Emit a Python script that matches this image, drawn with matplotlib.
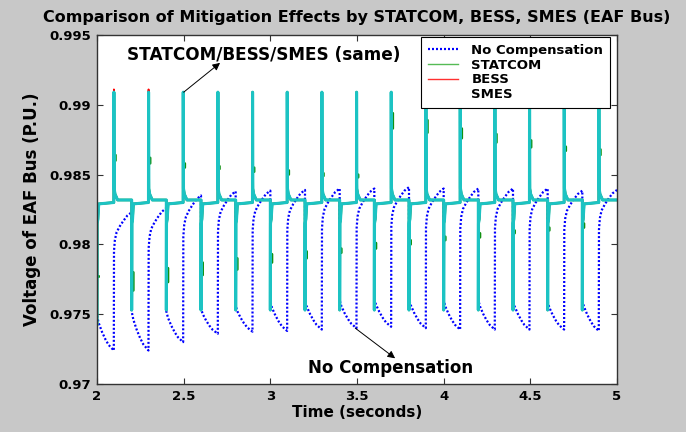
import numpy as np
import matplotlib.pyplot as plt
from matplotlib.lines import Line2D

plt.rcParams['font.family'] = 'DejaVu Sans'
plt.rcParams['font.weight'] = 'bold'
plt.rcParams['axes.labelweight'] = 'bold'

# load switching instants (s): voltage drops, then recovers ~0.1 s later
drop_times = [2.0, 2.2, 2.4, 2.6, 2.8, 3.0, 3.2, 3.4, 3.6, 3.8, 4.0, 4.2, 4.4, 4.6, 4.8]
rise_times = [2.097, 2.297, 2.497, 2.697, 2.897, 3.097, 3.297, 3.497, 3.697,
              3.897, 4.095, 4.295, 4.495, 4.695, 4.895]
t_end = 5.0

# uncompensated bus voltage per cycle (p.u.)
nc_after_drop = [0.9749, 0.9752, 0.9752, 0.9754, 0.9756, 0.9759, 0.9760, 0.9760,
                 0.9761, 0.9761, 0.9760, 0.9760, 0.9760, 0.9759, 0.9760]
nc_min = [0.9724, 0.9724, 0.9730, 0.9736, 0.97375, 0.9738, 0.9739, 0.9740,
          0.9741, 0.9740, 0.9739, 0.9739, 0.9739, 0.9739, 0.9738]
nc_peak = [0.9823, 0.9826, 0.9835, 0.9838, 0.98385, 0.9839, 0.9840, 0.9840,
           0.9841, 0.9840, 0.9840, 0.9840, 0.9840, 0.98385, 0.9839]
# shape of the sag decay and of the recovery, as fraction of the interval
decay_pos = [0.0, 0.10, 0.30, 0.50, 0.69, 0.90, 1.0]
decay_frac = [0.0, 0.21, 0.47, 0.68, 0.84, 0.95, 1.0]
rise_pos = [0.0, 0.01, 0.06, 0.155, 0.34, 0.52, 0.75, 1.0]
rise_frac = [0.0, 0.72, 0.80, 0.855, 0.90, 0.935, 0.975, 1.0]

# compensated bus voltage (SMES / BESS / STATCOM)
smes_drop_min = [0.9743, 0.9753, 0.9753, 0.9753, 0.9753, 0.9753, 0.9753, 0.9753,
                 0.9753, 0.9753, 0.9753, 0.9753, 0.9753, 0.9753, 0.9753]
smes_peak = [0.9909] * 15
bess_peak = [0.9911, 0.9911] + [0.9909] * 13
base_after_drop = 0.9830
base_after_spike = 0.98318
drop_return = 0.9815
spike_foot = 0.9836
# where the STATCOM trace departs from SMES (upper, lower)
statcom_drop_hi = [0.9777, 0.9780, 0.9783, 0.9787, 0.9790, 0.9793, 0.9795, 0.9797,
                   0.9801, 0.9803, 0.98055, 0.9808, 0.9810, 0.9812, 0.9815]
statcom_drop_lo = [0.9777, 0.9767, 0.9773, 0.9778, 0.9782, 0.9787, 0.9790, 0.9794,
                   0.9797, 0.9800, 0.9803, 0.9805, 0.9808, 0.9810, 0.9812]
statcom_spike_hi = [0.9864, 0.9862, 0.9858, 0.9856, 0.9855, 0.9853, 0.9851, 0.9850,
                    0.9894, 0.9889, 0.9883, 0.9879, 0.98745, 0.9870, 0.9868]
statcom_spike_lo = [0.9860, 0.9858, 0.9855, 0.9854, 0.9852, 0.9850, 0.9849, 0.9848,
                    0.9883, 0.9880, 0.9876, 0.9873, 0.98695, 0.9867, 0.9864]


def no_comp_curve():
    t, v = [], []
    for k, (td, tr) in enumerate(zip(drop_times, rise_times)):
        t_next = drop_times[k + 1] if k + 1 < len(drop_times) else t_end
        a, b, p = nc_after_drop[k], nc_min[k], nc_peak[k]
        for s, f in zip(decay_pos, decay_frac):
            t.append(td + s * (tr - td))
            v.append(a - f * (a - b))
        for s, f in zip(rise_pos[1:], rise_frac[1:]):
            t.append(tr + s * (t_next - tr))
            v.append(b + f * (p - b))
    return t, v


def compensated_curve(peaks, drop_mark=None, spike_mark=None):
    t, v = [], []
    off = 0.010
    for k, (td, tr) in enumerate(zip(drop_times, rise_times)):
        t_next = drop_times[k + 1] if k + 1 < len(drop_times) else t_end
        if k > 0:
            t.append(td); v.append(base_after_spike)
        t.append(td); v.append(smes_drop_min[k])
        if drop_mark is not None:
            lo, hi = drop_mark[0][k], drop_mark[1][k]
            t += [td + 0.001, td + off, td + off, td + 0.001]
            v += [lo, lo, hi, hi]
        t += [td + 0.001, td + 0.005, td + 0.010, tr]
        v += [drop_return, drop_return + 0.0003, base_after_drop - 0.0001, base_after_drop]
        t.append(tr + 0.0005); v.append(peaks[k])
        if spike_mark is not None:
            lo, hi = spike_mark[0][k], spike_mark[1][k]
            t += [tr + 0.001, tr + off, tr + off, tr + 0.001]
            v += [hi, hi, lo, lo]
        t += [tr + 0.002, tr + 0.007, tr + 0.022, t_next]
        v += [0.9840, spike_foot, base_after_spike, base_after_spike]
    return t, v


fig = plt.figure(figsize=(6.86, 4.32), dpi=100, facecolor='#c8c8c8')
ax = fig.add_axes([0.1414, 0.1111, 0.758, 0.808])

t_nc, v_nc = no_comp_curve()
t_st, v_st = compensated_curve(smes_peak, (statcom_drop_lo, statcom_drop_hi),
                               (statcom_spike_lo, statcom_spike_hi))
t_be, v_be = compensated_curve(bess_peak)
t_sm, v_sm = compensated_curve(smes_peak)

ax.plot(t_nc, v_nc, color='#0000ff', lw=1.6, linestyle=(0, (0.9, 0.9)))
ax.plot(t_st, v_st, color='#109010', lw=1.8)
ax.plot(t_be, v_be, color='#ff0000', lw=1.3)
ax.plot(t_sm, v_sm, color='#1cc3c3', lw=2.2)

ax.set_xlim(2, 5)
ax.set_ylim(0.97, 0.995)
ax.set_xticks([2, 2.5, 3, 3.5, 4, 4.5, 5])
ax.set_xticklabels(['2', '2.5', '3', '3.5', '4', '4.5', '5'])
ax.set_yticks([0.97, 0.975, 0.98, 0.985, 0.99, 0.995])
ax.set_yticklabels(['0.97', '0.975', '0.98', '0.985', '0.99', '0.995'])
ax.tick_params(direction='in', length=4, width=0.8, top=True, right=True,
               labelsize=9.5, pad=4, color='#333333')
for s in ax.spines.values():
    s.set_color('#333333')
    s.set_linewidth(1.0)

ax.set_title('Comparison of Mitigation Effects by STATCOM, BESS, SMES (EAF Bus)',
             fontsize=11.5, fontweight='bold', pad=9)
ax.set_xlabel('Time (seconds)', fontsize=11, labelpad=2)
ax.set_ylabel('Voltage of EAF Bus (P.U.)', fontsize=12, labelpad=6)

ax.text(2.173, 0.99321, 'STATCOM/BESS/SMES (same)', fontsize=12.2, fontweight='bold')
ax.annotate('', xy=(2.71, 0.9930), xytext=(2.5, 0.9909),
            arrowprops=dict(arrowstyle='-|>', color='black', lw=0.7,
                            mutation_scale=11, shrinkA=0, shrinkB=0))
ax.text(3.218, 0.9708, 'No Compensation', fontsize=12, fontweight='bold')
ax.annotate('', xy=(3.72, 0.97184), xytext=(3.49, 0.9740),
            arrowprops=dict(arrowstyle='-|>', color='black', lw=0.7,
                            mutation_scale=11, shrinkA=0, shrinkB=0))

handles = [
    Line2D([], [], color='#0000ff', lw=1.6, linestyle=(0, (0.9, 0.9))),
    Line2D([], [], color='#55bb55', lw=1.0),
    Line2D([], [], color='#ff3030', lw=1.0),
    Line2D([], [], color='none', lw=1.0),
]
leg = ax.legend(handles, ['No Compensation', 'STATCOM', 'BESS', 'SMES'],
                loc='upper right', bbox_to_anchor=(0.9865, 0.9943), fontsize=9.5,
                frameon=True, fancybox=False, framealpha=1, edgecolor='black',
                borderaxespad=0, handlelength=2.3, handletextpad=1.0,
                labelspacing=0.15, borderpad=0.5)
leg.get_frame().set_linewidth(0.8)

fig.savefig('out.png', dpi=100, facecolor=fig.get_facecolor())
